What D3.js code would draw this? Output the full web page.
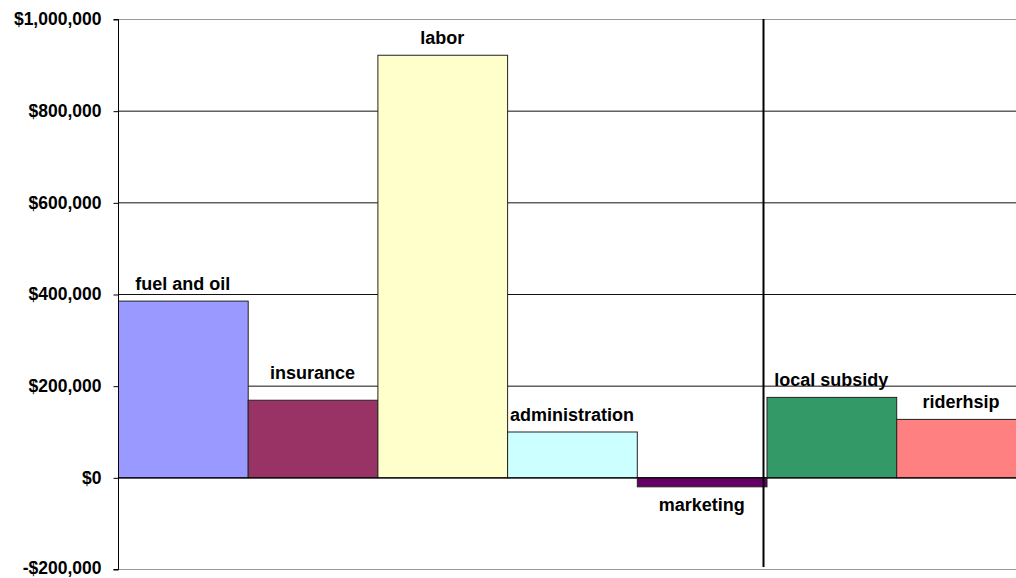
<!DOCTYPE html>
<html>
<head>
<meta charset="utf-8">
<script src="https://cdn.jsdelivr.net/npm/d3@7"></script>
<style>
  html, body { margin: 0; padding: 0; background: #fff; }
  svg { display: block; }
  text { font-family: "Liberation Sans", Arial, sans-serif; font-weight: bold; fill: #000; }
</style>
</head>
<body>
<svg id="chart" width="1016" height="578"></svg>
<script>
// Budget items (costs, then revenue sources)
const categories = ["fuel and oil", "insurance", "labor", "administration", "marketing", "local subsidy", "riderhsip"];
const amounts = [385600, 169300, 922000, 100000, -19600, 175500, 127500];
const colors = ["#9999FF", "#993366", "#FFFFCC", "#CCFFFF", "#660066", "#339966", "#FF8080"];
const tickValues = [-200000, 0, 200000, 400000, 600000, 800000, 1000000];
// extra lift for labels that sit higher than the rest
const labelLift = [0, 10, 0, 0, 0, 0, 0];

const svg = d3.select("#chart");
const plotLeft = 118, plotTop = 19, plotBottom = 569;
const plotRight = plotLeft + 7 * 129.7;

const y = d3.scaleLinear().domain([-200000, 1000000]).range([plotBottom, plotTop]);
const x = d3.scaleBand().domain(categories).range([plotLeft, plotRight]).padding(0);

const fmt = v => (v < 0 ? "-$" : "$") + d3.format(",")(Math.abs(v));

// gridlines
svg.append("g").selectAll("line").data(tickValues).join("line")
  .attr("x1", plotLeft).attr("x2", 1016)
  .attr("y1", d => y(d) + 0.5).attr("y2", d => y(d) + 0.5)
  .attr("stroke", d => (d === -200000 || d === 1000000) ? "#999" : "#111")
  .attr("stroke-width", 1);

// bars
svg.append("g").selectAll("rect").data(categories).join("rect")
  .attr("x", d => x(d) + 0.5)
  .attr("width", x.bandwidth())
  .attr("y", (d, i) => y(Math.max(0, amounts[i])) + 0.5)
  .attr("height", (d, i) => Math.abs(y(amounts[i]) - y(0)))
  .attr("fill", (d, i) => colors[i])
  .attr("stroke", "#222")
  .attr("stroke-width", 1);

// zero line over bars
svg.append("line")
  .attr("x1", plotLeft).attr("x2", 1016)
  .attr("y1", y(0) + 0.5).attr("y2", y(0) + 0.5)
  .attr("stroke", "#000");

// bar labels
svg.append("g").selectAll("text").data(categories).join("text")
  .attr("x", d => x(d) + x.bandwidth() / 2)
  .attr("y", (d, i) => amounts[i] >= 0
      ? y(amounts[i]) - 11 - labelLift[i]
      : y(amounts[i]) + 25)
  .attr("text-anchor", "middle")
  .attr("font-size", 18)
  .text(d => d);

// y axis
const axis = d3.axisLeft(y).tickValues(tickValues).tickFormat(fmt).tickSize(5).tickPadding(12);
const gA = svg.append("g").attr("transform", `translate(${plotLeft + 0.5},0.5)`).call(axis);
gA.select(".domain").attr("stroke", "#000").attr("d", `M-5,${y(1000000)}H0V${y(-200000)}H-5`);
gA.selectAll(".tick line").attr("stroke", "#000");
gA.selectAll(".tick text")
  .attr("font-size", 17.5)
  .attr("dy", "0.3em")
  .attr("font-family", "'Liberation Sans', Arial, sans-serif")
  .attr("font-weight", "bold")
  .attr("fill", "#000");
// keep the bottom tick label inside the frame
gA.selectAll(".tick text").filter(d => d === -200000).attr("dy", "0.2em");

// divider between costs and revenues
const divX = x("local subsidy") - 3;
svg.append("line")
  .attr("x1", divX).attr("x2", divX)
  .attr("y1", plotTop).attr("y2", 567)
  .attr("stroke", "#000").attr("stroke-width", 2);
</script>
</body>
</html>
